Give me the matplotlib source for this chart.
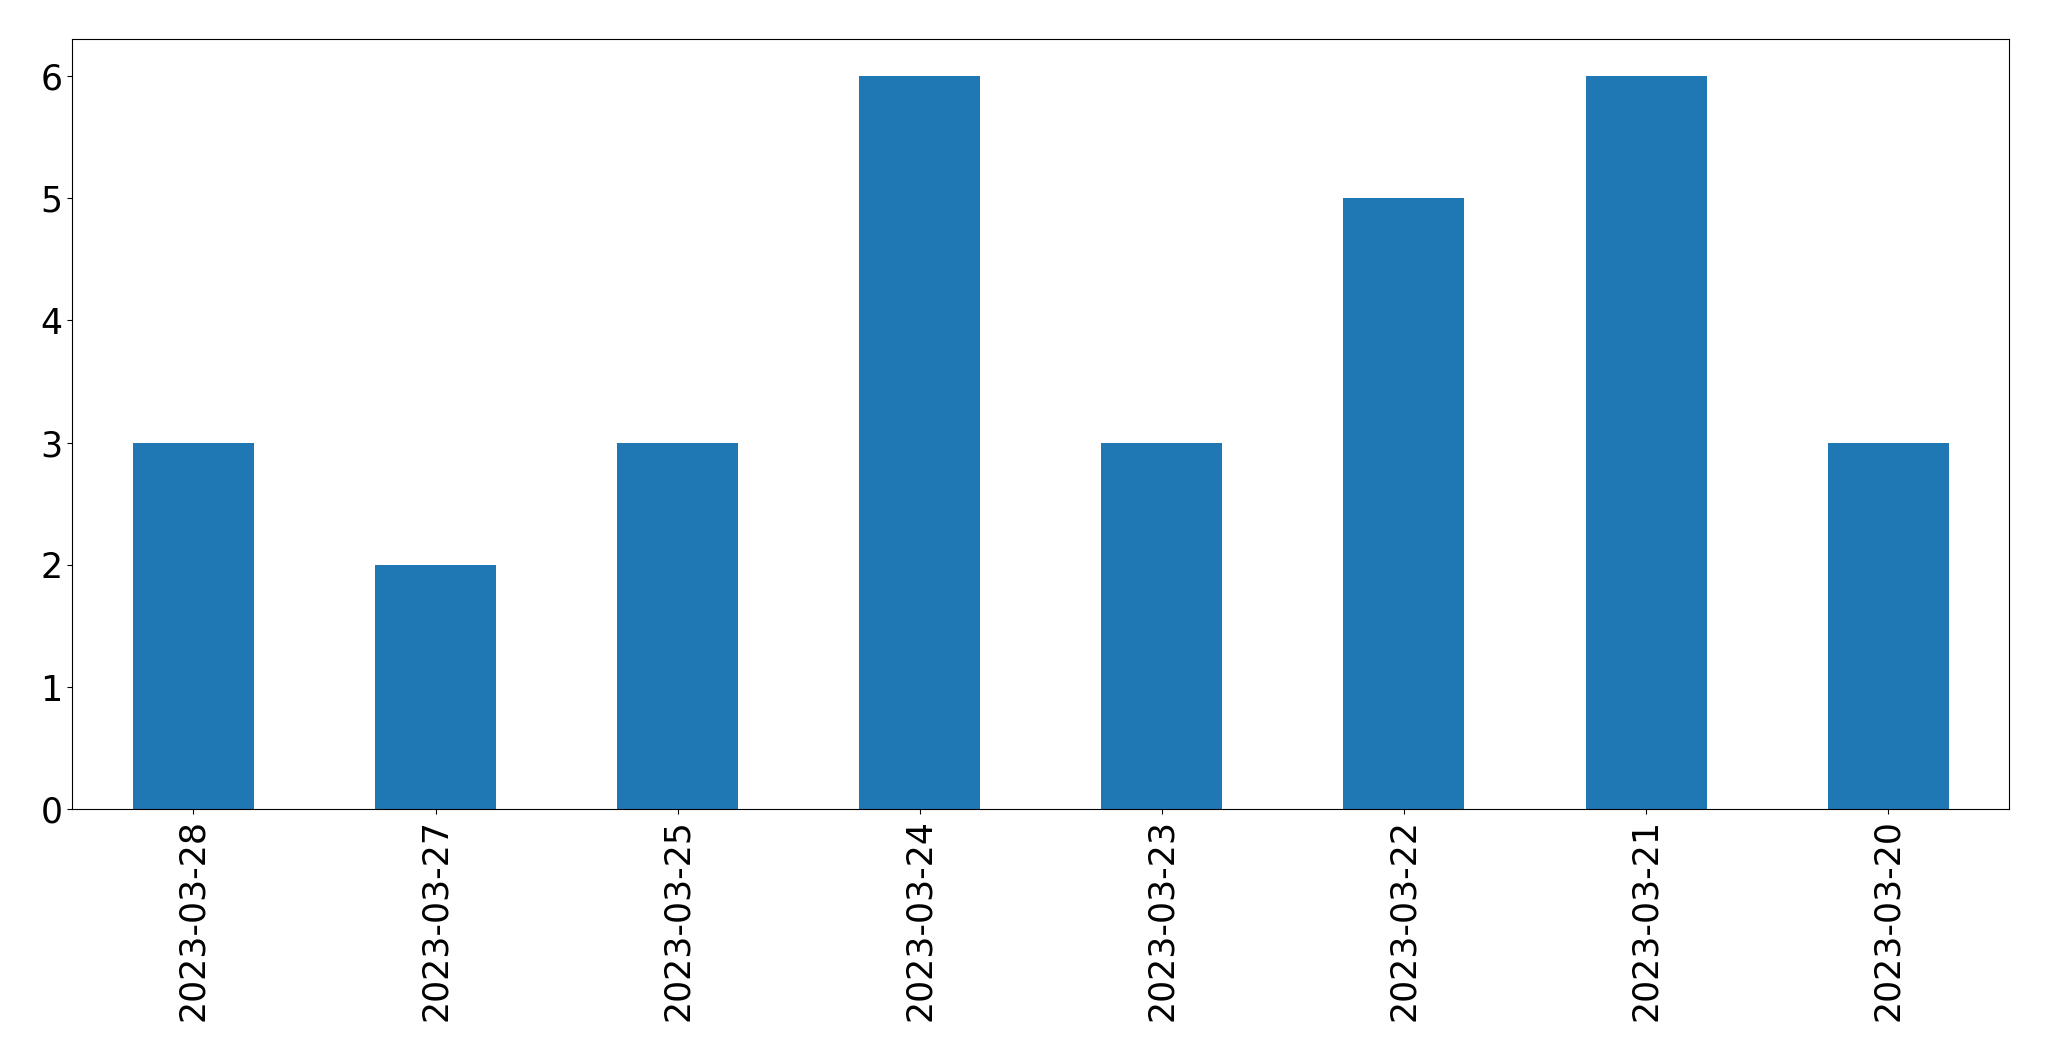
import matplotlib
matplotlib.use("Agg")
import matplotlib.pyplot as plt
import pandas as pd

dates = ['2023-03-28', '2023-03-27', '2023-03-25', '2023-03-24',
         '2023-03-23', '2023-03-22', '2023-03-21', '2023-03-20']
counts = [3, 2, 3, 6, 3, 5, 6, 3]


def main():
    series = pd.Series(counts, index=dates)

    fig, ax = plt.subplots(figsize=(20.49, 10.61), dpi=100)
    fig.subplots_adjust(left=0.0353, right=0.9806, top=0.963, bottom=0.2372)

    series.plot(kind='bar', ax=ax, color='#1f77b4', fontsize=25)
    ax.tick_params(axis='x', labelrotation=90)

    fig.savefig('out.png', dpi=100)


main()
